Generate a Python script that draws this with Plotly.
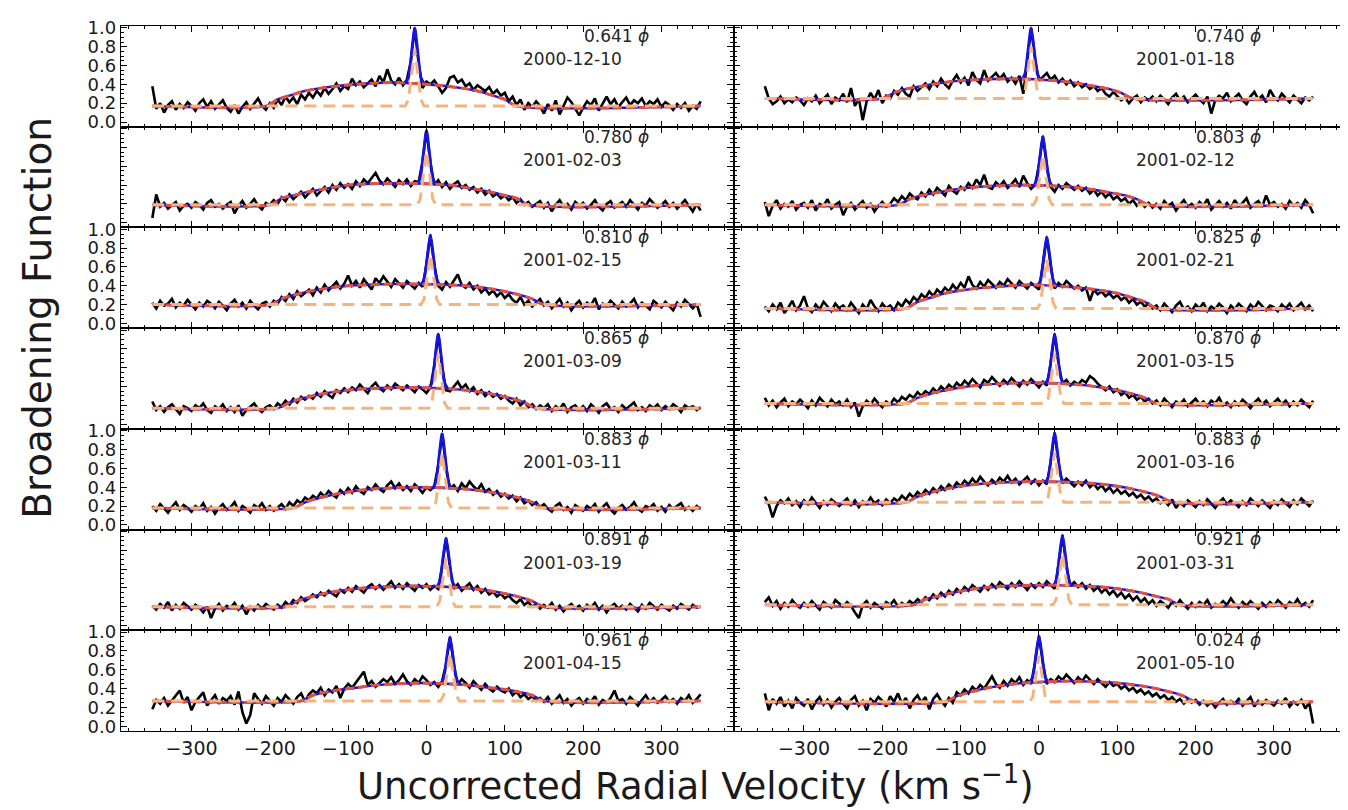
import plotly.graph_objects as go
from plotly.subplots import make_subplots

# ---------------- data ----------------
VELOCITY = list(range(-350, 351, 5))  # km/s grid of the broadening functions

PHASES_LEFT = ["0.641", "0.780", "0.810", "0.865", "0.883", "0.891", "0.961"]
DATES_LEFT = ["2000-12-10", "2001-02-03", "2001-02-15", "2001-03-09",
              "2001-03-11", "2001-03-19", "2001-04-15"]
PHASES_RIGHT = ["0.740", "0.803", "0.825", "0.870", "0.883", "0.921", "0.024"]
DATES_RIGHT = ["2001-01-18", "2001-02-12", "2001-02-21", "2001-03-15",
               "2001-03-16", "2001-03-31", "2001-05-10"]

X_TICKS = [-300, -200, -100, 0, 100, 200, 300]
Y_TICKS = [0.0, 0.2, 0.4, 0.6, 0.8, 1.0]

# ---- observed broadening functions (black) ----
bf_l1 = [0.38, 0.14, 0.20, 0.10, 0.18, 0.22, 0.13, 0.19, 0.15, 0.21,
         0.17, 0.12, 0.20, 0.24, 0.16, 0.22, 0.14, 0.19, 0.23, 0.15,
         0.11, 0.18, 0.09, 0.16, 0.21, 0.14, 0.19, 0.25, 0.17, 0.13,
         0.20, 0.15, 0.24, 0.18, 0.27, 0.21, 0.26, 0.19, 0.29, 0.24,
         0.31, 0.26, 0.33, 0.28, 0.36, 0.30, 0.35, 0.41, 0.33, 0.38,
         0.35, 0.46, 0.39, 0.43, 0.37, 0.41, 0.45, 0.38, 0.49, 0.42,
         0.56, 0.44, 0.40, 0.47, 0.39, 0.45, 0.64, 1.00, 0.62, 0.36,
         0.43, 0.40, 0.44, 0.38, 0.31, 0.36, 0.47, 0.49, 0.42, 0.45,
         0.38, 0.41, 0.34, 0.39, 0.36, 0.33, 0.37, 0.30, 0.34, 0.28,
         0.31, 0.22, 0.27, 0.18, 0.24, 0.13, 0.20, 0.16, 0.22, 0.17,
         0.09, 0.19, 0.12, 0.23, 0.08, 0.18, 0.26, 0.21, 0.14, 0.07,
         0.15, 0.22, 0.18, 0.25, 0.12, 0.20, 0.27, 0.19, 0.24, 0.16,
         0.21, 0.26, 0.18, 0.23, 0.20, 0.25, 0.17, 0.22, 0.19, 0.24,
         0.16, 0.21, 0.18, 0.13, 0.19, 0.15, 0.20, 0.12, 0.17, 0.14,
         0.22]
bf_l2 = [0.05, 0.30, 0.17, 0.21, 0.15, 0.19, 0.22, 0.13, 0.18, 0.20,
         0.16, 0.22, 0.19, 0.14, 0.21, 0.24, 0.17, 0.20, 0.15, 0.19,
         0.22, 0.10, 0.18, 0.23, 0.16, 0.20, 0.25, 0.18, 0.14, 0.21,
         0.19, 0.24, 0.20, 0.27, 0.23, 0.30, 0.25, 0.29, 0.33, 0.27,
         0.31, 0.36, 0.29, 0.34, 0.38, 0.32, 0.40, 0.35, 0.42, 0.37,
         0.41, 0.36, 0.44, 0.39, 0.46, 0.42, 0.48, 0.53, 0.45, 0.41,
         0.47, 0.43, 0.38, 0.45, 0.41, 0.46, 0.39, 0.44, 0.43, 0.65,
         0.98, 0.64, 0.40, 0.45, 0.38, 0.43, 0.36, 0.41, 0.44, 0.37,
         0.40, 0.35, 0.38, 0.32, 0.36, 0.30, 0.34, 0.28, 0.31, 0.26,
         0.29, 0.24, 0.27, 0.21, 0.25, 0.19, 0.22, 0.17, 0.20, 0.23,
         0.16, 0.21, 0.12, 0.19, 0.24, 0.17, 0.20, 0.14, 0.22, 0.18,
         0.21, 0.15, 0.19, 0.24, 0.17, 0.13, 0.20, 0.23, 0.16, 0.19,
         0.22, 0.17, 0.24, 0.19, 0.14, 0.21, 0.18, 0.25, 0.20, 0.16,
         0.19, 0.23, 0.17, 0.21, 0.15, 0.20, 0.24, 0.18, 0.12, 0.20,
         0.13]
bf_l3 = [0.22, 0.16, 0.24, 0.19, 0.21, 0.26, 0.17, 0.22, 0.19, 0.25,
         0.20, 0.15, 0.22, 0.18, 0.24, 0.21, 0.16, 0.23, 0.19, 0.14,
         0.21, 0.25, 0.18, 0.22, 0.16, 0.24, 0.19, 0.15, 0.21, 0.23,
         0.18, 0.24, 0.21, 0.28, 0.24, 0.31, 0.26, 0.34, 0.29, 0.33,
         0.36, 0.30, 0.38, 0.33, 0.41, 0.35, 0.39, 0.44, 0.37, 0.42,
         0.51, 0.40, 0.45, 0.38, 0.47, 0.42, 0.36, 0.48, 0.43, 0.50,
         0.44, 0.39, 0.47, 0.42, 0.38, 0.45, 0.41, 0.37, 0.43, 0.39,
         0.63, 0.94, 0.62, 0.40, 0.36, 0.44, 0.39, 0.46, 0.52, 0.41,
         0.38, 0.43, 0.36, 0.40, 0.33, 0.37, 0.31, 0.35, 0.29, 0.33,
         0.27, 0.31, 0.25, 0.22, 0.28, 0.20, 0.24, 0.18, 0.22, 0.26,
         0.19, 0.23, 0.16, 0.21, 0.26, 0.18, 0.22, 0.14, 0.20, 0.24,
         0.17, 0.22, 0.19, 0.27, 0.15, 0.21, 0.18, 0.24, 0.20, 0.16,
         0.23, 0.18, 0.21, 0.26, 0.17, 0.22, 0.19, 0.15, 0.24, 0.20,
         0.17, 0.23, 0.19, 0.14, 0.22, 0.18, 0.25, 0.20, 0.16, 0.21,
         0.07]
bf_l4 = [0.24, 0.15, 0.19, 0.13, 0.18, 0.21, 0.16, 0.11, 0.19, 0.17,
         0.14, 0.20, 0.17, 0.22, 0.15, 0.12, 0.19, 0.16, 0.21, 0.14,
         0.18, 0.13, 0.20, 0.09, 0.15, 0.19, 0.22, 0.16, 0.13, 0.18,
         0.20, 0.16, 0.22, 0.19, 0.25, 0.21, 0.27, 0.23, 0.29, 0.26,
         0.30, 0.27, 0.33, 0.29, 0.35, 0.31, 0.28, 0.36, 0.33, 0.38,
         0.34, 0.39, 0.36, 0.42, 0.37, 0.33, 0.40, 0.44, 0.38, 0.35,
         0.41, 0.37, 0.43, 0.39, 0.36, 0.41, 0.38, 0.34, 0.40, 0.37,
         0.33, 0.39, 0.62, 0.96, 0.61, 0.36, 0.35, 0.40, 0.45, 0.38,
         0.42, 0.35, 0.39, 0.32, 0.36, 0.30, 0.34, 0.29, 0.32, 0.27,
         0.30, 0.25, 0.22, 0.27, 0.20, 0.24, 0.18, 0.21, 0.16, 0.20,
         0.17, 0.21, 0.14, 0.19, 0.16, 0.22, 0.13, 0.18, 0.20, 0.15,
         0.19, 0.14, 0.21, 0.17, 0.12, 0.19, 0.22, 0.16, 0.18, 0.13,
         0.20, 0.16, 0.19, 0.23, 0.15, 0.18, 0.14, 0.20, 0.17, 0.21,
         0.15, 0.19, 0.16, 0.21, 0.18, 0.13, 0.20, 0.17, 0.19, 0.15,
         0.18]
bf_l5 = [0.20, 0.15, 0.22, 0.17, 0.13, 0.19, 0.24, 0.16, 0.21, 0.18,
         0.14, 0.20, 0.17, 0.23, 0.15, 0.19, 0.12, 0.18, 0.22, 0.16,
         0.19, 0.24, 0.15, 0.20, 0.17, 0.13, 0.21, 0.18, 0.23, 0.16,
         0.20, 0.15, 0.19, 0.22, 0.17, 0.24, 0.20, 0.26, 0.23, 0.29,
         0.26, 0.31, 0.28, 0.34, 0.30, 0.36, 0.32, 0.29, 0.37, 0.33,
         0.39, 0.34, 0.41, 0.36, 0.33, 0.40, 0.37, 0.43, 0.38, 0.35,
         0.42, 0.46, 0.39, 0.44, 0.37, 0.41, 0.36, 0.43, 0.39, 0.34,
         0.40, 0.37, 0.41, 0.63, 0.97, 0.62, 0.38, 0.42, 0.36, 0.44,
         0.39, 0.46, 0.41, 0.37, 0.43, 0.35, 0.38, 0.32, 0.36, 0.30,
         0.33, 0.28, 0.31, 0.25, 0.29, 0.23, 0.26, 0.21, 0.24, 0.19,
         0.22, 0.17, 0.14, 0.20, 0.23, 0.16, 0.19, 0.13, 0.21, 0.18,
         0.15, 0.20, 0.17, 0.22, 0.14, 0.19, 0.23, 0.16, 0.12, 0.18,
         0.21, 0.16, 0.19, 0.24, 0.17, 0.14, 0.20, 0.18, 0.22, 0.15,
         0.19, 0.14, 0.21, 0.17, 0.20, 0.23, 0.16, 0.19, 0.15, 0.20,
         0.17]
bf_l6 = [0.21, 0.17, 0.23, 0.19, 0.25, 0.16, 0.22, 0.18, 0.24, 0.20,
         0.17, 0.22, 0.19, 0.14, 0.20, 0.08, 0.18, 0.23, 0.16, 0.21,
         0.19, 0.24, 0.17, 0.21, 0.12, 0.20, 0.16, 0.22, 0.18, 0.23,
         0.20, 0.17, 0.22, 0.19, 0.25, 0.21, 0.27, 0.24, 0.30, 0.26,
         0.29, 0.33, 0.30, 0.35, 0.32, 0.37, 0.34, 0.31, 0.38, 0.35,
         0.40, 0.36, 0.42, 0.38, 0.35, 0.41, 0.44, 0.39, 0.43, 0.38,
         0.42, 0.47, 0.40, 0.44, 0.39, 0.45, 0.41, 0.37, 0.43, 0.40,
         0.44, 0.38, 0.42, 0.39, 0.63, 0.93, 0.62, 0.39, 0.44, 0.37,
         0.41, 0.45, 0.38, 0.42, 0.35, 0.39, 0.33, 0.36, 0.31, 0.34,
         0.29, 0.32, 0.27, 0.24, 0.28, 0.22, 0.25, 0.20, 0.23, 0.18,
         0.22, 0.19, 0.24, 0.17, 0.21, 0.15, 0.20, 0.23, 0.18, 0.21,
         0.16, 0.22, 0.19, 0.24, 0.17, 0.21, 0.14, 0.20, 0.23, 0.18,
         0.21, 0.17, 0.23, 0.19, 0.15, 0.22, 0.18, 0.24, 0.20, 0.17,
         0.22, 0.19, 0.16, 0.21, 0.18, 0.23, 0.20, 0.17, 0.22, 0.19,
         0.20]
bf_l7 = [0.18, 0.28, 0.24, 0.30, 0.22, 0.27, 0.33, 0.38, 0.25, 0.31,
         0.17, 0.26, 0.31, 0.36, 0.22, 0.28, 0.33, 0.24, 0.30, 0.27,
         0.32, 0.23, 0.37, 0.15, 0.03, 0.12, 0.35, 0.29, 0.24, 0.32,
         0.27, 0.22, 0.30, 0.26, 0.33, 0.28, 0.24, 0.31, 0.35, 0.26,
         0.34, 0.38, 0.35, 0.41, 0.33, 0.39, 0.36, 0.43, 0.30, 0.40,
         0.45, 0.41, 0.47, 0.52, 0.58, 0.44, 0.48, 0.42, 0.46, 0.50,
         0.47, 0.52, 0.45, 0.49, 0.55, 0.48, 0.44, 0.50, 0.46, 0.53,
         0.49, 0.44, 0.47, 0.42, 0.48, 0.66, 0.95, 0.65, 0.44, 0.50,
         0.46, 0.41, 0.48, 0.43, 0.39, 0.45, 0.40, 0.37, 0.42, 0.38,
         0.36, 0.40, 0.33, 0.37, 0.31, 0.34, 0.29, 0.32, 0.27, 0.30,
         0.26, 0.31, 0.24, 0.28, 0.33, 0.25, 0.29, 0.22, 0.27, 0.30,
         0.24, 0.29, 0.26, 0.32, 0.23, 0.28, 0.25, 0.30, 0.38, 0.27,
         0.29, 0.24, 0.31, 0.27, 0.22, 0.28, 0.33, 0.26, 0.30, 0.25,
         0.28, 0.32, 0.26, 0.29, 0.24, 0.30, 0.27, 0.33, 0.25, 0.29,
         0.34]
bf_r1 = [0.38, 0.25, 0.19, 0.22, 0.27, 0.20, 0.24, 0.21, 0.26, 0.23,
         0.18, 0.25, 0.22, 0.28, 0.20, 0.24, 0.29, 0.19, 0.26, 0.23,
         0.30, 0.21, 0.36, 0.17, 0.25, 0.02, 0.22, 0.31, 0.24, 0.34,
         0.20, 0.28, 0.25, 0.33, 0.29, 0.36, 0.30, 0.27, 0.38, 0.33,
         0.37, 0.41, 0.35, 0.43, 0.38, 0.46, 0.40, 0.36, 0.44, 0.50,
         0.42, 0.47, 0.39, 0.53, 0.45, 0.41, 0.55, 0.44, 0.48, 0.52,
         0.46, 0.51, 0.43, 0.47, 0.41, 0.49, 0.30, 0.68, 1.00, 0.67,
         0.44, 0.48, 0.52, 0.45, 0.49, 0.42, 0.46, 0.40, 0.44, 0.38,
         0.42, 0.37, 0.40, 0.35, 0.38, 0.33, 0.36, 0.30, 0.27, 0.32,
         0.28, 0.23, 0.26, 0.20, 0.25, 0.28, 0.21, 0.26, 0.23, 0.27,
         0.22, 0.28, 0.24, 0.19, 0.26, 0.30, 0.23, 0.27, 0.21, 0.25,
         0.29, 0.24, 0.20, 0.27, 0.09, 0.23, 0.28, 0.25, 0.31, 0.22,
         0.26, 0.30, 0.23, 0.19, 0.27, 0.32, 0.24, 0.28, 0.21, 0.34,
         0.27, 0.23, 0.30, 0.25, 0.21, 0.28, 0.24, 0.20, 0.26, 0.23,
         0.27]
bf_r2 = [0.22, 0.07, 0.18, 0.24, 0.15, 0.20, 0.17, 0.23, 0.14, 0.19,
         0.21, 0.16, 0.24, 0.13, 0.20, 0.18, 0.25, 0.15, 0.19, 0.22,
         0.08, 0.17, 0.21, 0.14, 0.19, 0.23, 0.16, 0.20, 0.12, 0.18,
         0.22, 0.17, 0.20, 0.26, 0.22, 0.28, 0.24, 0.31, 0.27, 0.25,
         0.32, 0.28, 0.35, 0.30, 0.37, 0.33, 0.29, 0.39, 0.34, 0.31,
         0.38, 0.35, 0.42, 0.37, 0.46, 0.40, 0.51, 0.38, 0.36, 0.43,
         0.39, 0.44, 0.37, 0.41, 0.46, 0.38, 0.50, 0.42, 0.36, 0.40,
         0.61, 0.92, 0.60, 0.38, 0.33, 0.40, 0.36, 0.42, 0.38, 0.35,
         0.39, 0.34, 0.37, 0.31, 0.35, 0.29, 0.33, 0.27, 0.31, 0.25,
         0.28, 0.23, 0.26, 0.20, 0.24, 0.18, 0.22, 0.17, 0.21, 0.16,
         0.20, 0.15, 0.23, 0.18, 0.21, 0.13, 0.19, 0.24, 0.17, 0.20,
         0.16, 0.22, 0.18, 0.25, 0.14, 0.19, 0.23, 0.17, 0.21, 0.15,
         0.24, 0.18, 0.21, 0.26, 0.16, 0.20, 0.23, 0.17, 0.29, 0.19,
         0.22, 0.17, 0.20, 0.15, 0.23, 0.18, 0.21, 0.16, 0.24, 0.19,
         0.10]
bf_r3 = [0.18, 0.13, 0.20, 0.15, 0.22, 0.11, 0.17, 0.24, 0.14, 0.19,
         0.29, 0.16, 0.12, 0.20, 0.15, 0.23, 0.18, 0.13, 0.21, 0.16,
         0.19, 0.14, 0.22, 0.17, 0.11, 0.20, 0.15, 0.25, 0.18, 0.13,
         0.21, 0.16, 0.19, 0.14, 0.22, 0.18, 0.25, 0.21, 0.28, 0.24,
         0.31, 0.27, 0.34, 0.29, 0.36, 0.32, 0.38, 0.34, 0.41, 0.36,
         0.43, 0.38, 0.50, 0.41, 0.37, 0.44, 0.39, 0.46, 0.42, 0.38,
         0.44, 0.40, 0.47, 0.42, 0.38, 0.45, 0.41, 0.37, 0.43, 0.39,
         0.36, 0.62, 0.92, 0.61, 0.37, 0.43, 0.39, 0.45, 0.41, 0.37,
         0.40, 0.35, 0.38, 0.24, 0.36, 0.31, 0.34, 0.29, 0.32, 0.27,
         0.30, 0.25, 0.28, 0.22, 0.26, 0.20, 0.23, 0.18, 0.21, 0.16,
         0.19, 0.14, 0.21, 0.17, 0.12, 0.19, 0.23, 0.15, 0.18, 0.13,
         0.20, 0.16, 0.22, 0.13, 0.18, 0.15, 0.21, 0.17, 0.11, 0.19,
         0.15, 0.21, 0.17, 0.13, 0.20, 0.16, 0.23, 0.18, 0.14, 0.19,
         0.17, 0.13, 0.20, 0.16, 0.21, 0.14, 0.18, 0.22, 0.15, 0.19,
         0.13]
bf_r4 = [0.28, 0.20, 0.25, 0.18, 0.23, 0.27, 0.19, 0.24, 0.21, 0.26,
         0.22, 0.17, 0.25, 0.20, 0.28, 0.23, 0.19, 0.26, 0.21, 0.24,
         0.20, 0.26, 0.18, 0.23, 0.08, 0.19, 0.25, 0.21, 0.27, 0.22,
         0.18, 0.24, 0.21, 0.27, 0.23, 0.29, 0.26, 0.31, 0.28, 0.34,
         0.30, 0.35, 0.32, 0.38, 0.34, 0.40, 0.36, 0.42, 0.38, 0.44,
         0.40, 0.46, 0.42, 0.48, 0.43, 0.39, 0.47, 0.44, 0.50, 0.45,
         0.41, 0.47, 0.43, 0.49, 0.45, 0.40, 0.46, 0.42, 0.48, 0.44,
         0.39, 0.45, 0.41, 0.65, 0.96, 0.64, 0.43, 0.47, 0.41, 0.45,
         0.42, 0.47, 0.44, 0.51, 0.48, 0.43, 0.39, 0.36, 0.40, 0.34,
         0.37, 0.31, 0.34, 0.28, 0.31, 0.26, 0.29, 0.24, 0.27, 0.22,
         0.25, 0.20, 0.27, 0.23, 0.18, 0.24, 0.21, 0.26, 0.19, 0.23,
         0.27, 0.21, 0.24, 0.19, 0.25, 0.22, 0.28, 0.20, 0.23, 0.18,
         0.24, 0.20, 0.26, 0.22, 0.17, 0.23, 0.27, 0.21, 0.25, 0.19,
         0.23, 0.27, 0.21, 0.25, 0.19, 0.24, 0.20, 0.26, 0.22, 0.18,
         0.25]
bf_r5 = [0.30, 0.22, 0.08, 0.20, 0.26, 0.23, 0.28, 0.21, 0.25, 0.19,
         0.26, 0.22, 0.29, 0.24, 0.18, 0.25, 0.21, 0.27, 0.23, 0.20,
         0.24, 0.28, 0.21, 0.26, 0.19, 0.25, 0.22, 0.29, 0.23, 0.26,
         0.21, 0.27, 0.23, 0.28, 0.25, 0.31, 0.27, 0.33, 0.29, 0.35,
         0.31, 0.37, 0.33, 0.39, 0.35, 0.41, 0.37, 0.43, 0.39, 0.45,
         0.41, 0.47, 0.43, 0.49, 0.44, 0.51, 0.46, 0.42, 0.48, 0.44,
         0.50, 0.46, 0.52, 0.45, 0.49, 0.43, 0.47, 0.51, 0.44, 0.48,
         0.42, 0.47, 0.43, 0.67, 0.98, 0.66, 0.44, 0.49, 0.45, 0.41,
         0.46, 0.42, 0.47, 0.40, 0.44, 0.38, 0.42, 0.36, 0.40, 0.34,
         0.38, 0.33, 0.36, 0.31, 0.34, 0.29, 0.32, 0.27, 0.30, 0.25,
         0.28, 0.23, 0.26, 0.21, 0.27, 0.18, 0.24, 0.20, 0.26, 0.22,
         0.19, 0.25, 0.21, 0.27, 0.23, 0.18, 0.24, 0.28, 0.22, 0.26,
         0.23, 0.19, 0.25, 0.21, 0.28, 0.24, 0.20, 0.26, 0.22, 0.18,
         0.25, 0.21, 0.27, 0.23, 0.19, 0.26, 0.22, 0.28, 0.24, 0.20,
         0.26]
bf_r6 = [0.25, 0.30, 0.21, 0.26, 0.18, 0.24, 0.20, 0.27, 0.22, 0.19,
         0.24, 0.20, 0.26, 0.21, 0.17, 0.25, 0.22, 0.19, 0.27, 0.23,
         0.20, 0.25, 0.21, 0.14, 0.08, 0.22, 0.26, 0.19, 0.24, 0.21,
         0.18, 0.25, 0.22, 0.27, 0.20, 0.24, 0.21, 0.26, 0.23, 0.28,
         0.25, 0.30, 0.27, 0.33, 0.29, 0.35, 0.31, 0.37, 0.33, 0.39,
         0.35, 0.41, 0.37, 0.43, 0.39, 0.36, 0.42, 0.38, 0.44, 0.40,
         0.46, 0.42, 0.39, 0.45, 0.41, 0.47, 0.43, 0.38, 0.44, 0.40,
         0.45, 0.41, 0.47, 0.43, 0.39, 0.65, 0.96, 0.64, 0.42, 0.46,
         0.41, 0.45, 0.39, 0.43, 0.37, 0.41, 0.35, 0.39, 0.33, 0.37,
         0.31, 0.35, 0.29, 0.33, 0.27, 0.31, 0.25, 0.29, 0.23, 0.27,
         0.21, 0.26, 0.23, 0.19, 0.25, 0.21, 0.27, 0.22, 0.18, 0.24,
         0.20, 0.25, 0.22, 0.27, 0.19, 0.23, 0.21, 0.26, 0.22, 0.29,
         0.23, 0.19, 0.25, 0.21, 0.26, 0.22, 0.18, 0.24, 0.20, 0.25,
         0.21, 0.27, 0.23, 0.19, 0.25, 0.22, 0.28, 0.21, 0.24, 0.20,
         0.27]
bf_r7 = [0.35, 0.17, 0.29, 0.24, 0.31, 0.21, 0.27, 0.19, 0.30, 0.25,
         0.22, 0.29, 0.18, 0.26, 0.31, 0.23, 0.28, 0.20, 0.26, 0.30,
         0.24, 0.19, 0.28, 0.32, 0.22, 0.27, 0.17, 0.29, 0.25, 0.31,
         0.27, 0.21, 0.32, 0.26, 0.35, 0.24, 0.30, 0.19, 0.28, 0.33,
         0.25, 0.31, 0.18, 0.29, 0.34, 0.27, 0.22, 0.30, 0.25, 0.36,
         0.33, 0.39, 0.35, 0.42, 0.38, 0.44, 0.40, 0.47, 0.53, 0.45,
         0.41, 0.48, 0.43, 0.50, 0.46, 0.52, 0.44, 0.49, 0.45, 0.68,
         0.96, 0.67, 0.45, 0.50, 0.47, 0.53, 0.49, 0.55, 0.51, 0.46,
         0.52, 0.48, 0.54, 0.49, 0.45, 0.50, 0.46, 0.42, 0.47, 0.43,
         0.45, 0.40, 0.43, 0.38, 0.41, 0.36, 0.39, 0.34, 0.37, 0.32,
         0.35, 0.30, 0.33, 0.28, 0.31, 0.26, 0.29, 0.24, 0.28, 0.25,
         0.28, 0.23, 0.27, 0.22, 0.26, 0.20, 0.25, 0.29, 0.23, 0.27,
         0.24, 0.29, 0.22, 0.26, 0.31, 0.21, 0.27, 0.23, 0.28, 0.25,
         0.22, 0.27, 0.24, 0.30, 0.21, 0.26, 0.23, 0.28, 0.19, 0.25,
         0.03]

# ---- broad component of the fit (red dashed): knots ----
broad_v_l1 = [-350, -205, -190, -175, -155, -135, -105, -45, 15, 45, 65, 85, 100, 115, 350]
broad_y_l1 = [0.17, 0.17, 0.24, 0.28, 0.33, 0.36, 0.39, 0.42, 0.39, 0.36, 0.33, 0.28, 0.24, 0.17, 0.17]
broad_v_l2 = [-350, -200, -185, -170, -150, -130, -100, -35, 30, 60, 80, 100, 115, 130, 350]
broad_y_l2 = [0.19, 0.19, 0.26, 0.29, 0.33, 0.36, 0.40, 0.42, 0.40, 0.36, 0.33, 0.29, 0.26, 0.19, 0.19]
broad_v_l3 = [-350, -200, -185, -170, -150, -130, -100, -25, 50, 80, 100, 120, 135, 150, 350]
broad_y_l3 = [0.20, 0.20, 0.26, 0.30, 0.34, 0.37, 0.40, 0.42, 0.40, 0.37, 0.34, 0.30, 0.26, 0.20, 0.20]
broad_v_l4 = [-350, -190, -175, -160, -140, -120, -90, -25, 40, 70, 90, 110, 125, 140, 350]
broad_y_l4 = [0.17, 0.17, 0.23, 0.27, 0.31, 0.34, 0.37, 0.39, 0.37, 0.34, 0.31, 0.27, 0.23, 0.17, 0.17]
broad_v_l5 = [-350, -170, -155, -140, -120, -100, -70, -10, 50, 80, 100, 120, 135, 150, 350]
broad_y_l5 = [0.18, 0.18, 0.24, 0.28, 0.32, 0.35, 0.38, 0.40, 0.38, 0.35, 0.32, 0.28, 0.24, 0.18, 0.18]
broad_v_l6 = [-350, -180, -165, -150, -130, -110, -80, -15, 50, 80, 100, 120, 135, 150, 350]
broad_y_l6 = [0.20, 0.20, 0.26, 0.30, 0.34, 0.37, 0.40, 0.42, 0.40, 0.37, 0.34, 0.30, 0.26, 0.20, 0.20]
broad_v_l7 = [-350, -160, -145, -130, -110, -90, -60, -5, 50, 80, 100, 120, 135, 150, 350]
broad_y_l7 = [0.27, 0.27, 0.33, 0.36, 0.39, 0.41, 0.44, 0.46, 0.44, 0.41, 0.39, 0.36, 0.33, 0.27, 0.27]
broad_v_r1 = [-350, -200, -185, -170, -150, -130, -100, -40, 20, 50, 70, 90, 105, 120, 350]
broad_y_r1 = [0.25, 0.25, 0.31, 0.35, 0.38, 0.41, 0.44, 0.46, 0.44, 0.41, 0.38, 0.35, 0.31, 0.25, 0.25]
broad_v_r2 = [-350, -180, -165, -150, -130, -110, -80, -20, 40, 70, 90, 110, 125, 140, 350]
broad_y_r2 = [0.19, 0.19, 0.25, 0.29, 0.32, 0.35, 0.38, 0.40, 0.38, 0.35, 0.32, 0.29, 0.25, 0.19, 0.19]
broad_v_r3 = [-350, -170, -155, -140, -120, -100, -70, -10, 50, 80, 100, 120, 135, 150, 350]
broad_y_r3 = [0.16, 0.16, 0.23, 0.27, 0.32, 0.35, 0.38, 0.41, 0.38, 0.35, 0.32, 0.27, 0.23, 0.16, 0.16]
broad_v_r4 = [-350, -170, -155, -140, -120, -100, -70, -10, 50, 80, 100, 120, 135, 150, 350]
broad_y_r4 = [0.22, 0.22, 0.28, 0.32, 0.36, 0.39, 0.42, 0.44, 0.42, 0.39, 0.36, 0.32, 0.28, 0.22, 0.22]
broad_v_r5 = [-350, -170, -155, -140, -120, -100, -70, 0, 70, 100, 120, 140, 155, 170, 350]
broad_y_r5 = [0.24, 0.24, 0.30, 0.34, 0.38, 0.41, 0.44, 0.46, 0.44, 0.41, 0.38, 0.34, 0.30, 0.24, 0.24]
broad_v_r6 = [-350, -160, -145, -130, -110, -90, -60, 10, 80, 110, 130, 150, 165, 180, 350]
broad_y_r6 = [0.22, 0.22, 0.28, 0.31, 0.35, 0.38, 0.41, 0.43, 0.41, 0.38, 0.35, 0.31, 0.28, 0.22, 0.22]
broad_v_r7 = [-350, -120, -105, -90, -70, -50, -20, 40, 100, 130, 150, 170, 185, 200, 350]
broad_y_r7 = [0.26, 0.26, 0.32, 0.36, 0.40, 0.43, 0.46, 0.48, 0.46, 0.43, 0.40, 0.36, 0.32, 0.26, 0.26]

# ---- narrow component (orange dashed) and total fit around the peak (blue) ----
peak_v_l1 = [-350, -27, -23, -19, -15, -11, -7, -3, 350]
peak_y_l1 = [0.17, 0.17, 0.24, 0.51, 0.77, 0.51, 0.24, 0.17, 0.17]
fit_y_l1 = [0.41, 0.47, 0.74, 1.00, 0.74, 0.47, 0.41]
peak_v_l2 = [-350, -12, -8, -4, 0, 4, 8, 12, 350]
peak_y_l2 = [0.19, 0.19, 0.25, 0.52, 0.76, 0.52, 0.25, 0.19, 0.19]
fit_y_l2 = [0.41, 0.47, 0.73, 0.98, 0.73, 0.47, 0.41]
peak_v_l3 = [-350, -7, -3, 1, 5, 9, 13, 17, 350]
peak_y_l3 = [0.20, 0.20, 0.26, 0.50, 0.73, 0.50, 0.26, 0.20, 0.20]
fit_y_l3 = [0.41, 0.47, 0.71, 0.94, 0.71, 0.47, 0.41]
peak_v_l4 = [-350, 3, 7, 11, 15, 19, 23, 27, 350]
peak_y_l4 = [0.17, 0.17, 0.23, 0.50, 0.75, 0.50, 0.23, 0.17, 0.17]
fit_y_l4 = [0.38, 0.44, 0.71, 0.96, 0.71, 0.44, 0.38]
peak_v_l5 = [-350, 8, 12, 16, 20, 24, 28, 32, 350]
peak_y_l5 = [0.18, 0.18, 0.24, 0.51, 0.76, 0.51, 0.24, 0.18, 0.18]
fit_y_l5 = [0.39, 0.45, 0.72, 0.97, 0.72, 0.45, 0.39]
peak_v_l6 = [-350, 13, 17, 21, 25, 29, 33, 37, 350]
peak_y_l6 = [0.20, 0.20, 0.26, 0.50, 0.72, 0.50, 0.26, 0.20, 0.20]
fit_y_l6 = [0.41, 0.47, 0.71, 0.93, 0.71, 0.47, 0.41]
peak_v_l7 = [-350, 18, 22, 26, 30, 34, 38, 42, 350]
peak_y_l7 = [0.27, 0.27, 0.33, 0.56, 0.77, 0.56, 0.33, 0.27, 0.27]
fit_y_l7 = [0.45, 0.51, 0.74, 0.95, 0.74, 0.51, 0.45]
peak_v_r1 = [-350, -22, -18, -14, -10, -6, -2, 2, 350]
peak_y_r1 = [0.25, 0.25, 0.31, 0.56, 0.80, 0.56, 0.31, 0.25, 0.25]
fit_y_r1 = [0.45, 0.51, 0.76, 1.00, 0.76, 0.51, 0.45]
peak_v_r2 = [-350, -7, -3, 1, 5, 9, 13, 17, 350]
peak_y_r2 = [0.19, 0.19, 0.25, 0.49, 0.72, 0.49, 0.25, 0.19, 0.19]
fit_y_r2 = [0.39, 0.45, 0.69, 0.92, 0.69, 0.45, 0.39]
peak_v_r3 = [-350, -2, 2, 6, 10, 14, 18, 22, 350]
peak_y_r3 = [0.16, 0.16, 0.22, 0.46, 0.68, 0.46, 0.22, 0.16, 0.16]
fit_y_r3 = [0.40, 0.46, 0.70, 0.92, 0.70, 0.46, 0.40]
peak_v_r4 = [-350, 8, 12, 16, 20, 24, 28, 32, 350]
peak_y_r4 = [0.22, 0.22, 0.28, 0.52, 0.75, 0.52, 0.28, 0.22, 0.22]
fit_y_r4 = [0.43, 0.49, 0.73, 0.96, 0.73, 0.49, 0.43]
peak_v_r5 = [-350, 8, 12, 16, 20, 24, 28, 32, 350]
peak_y_r5 = [0.24, 0.24, 0.30, 0.54, 0.77, 0.54, 0.30, 0.24, 0.24]
fit_y_r5 = [0.45, 0.51, 0.75, 0.98, 0.75, 0.51, 0.45]
peak_v_r6 = [-350, 18, 22, 26, 30, 34, 38, 42, 350]
peak_y_r6 = [0.22, 0.22, 0.28, 0.53, 0.76, 0.53, 0.28, 0.22, 0.22]
fit_y_r6 = [0.42, 0.48, 0.73, 0.96, 0.73, 0.48, 0.42]
peak_v_r7 = [-350, -12, -8, -4, 0, 4, 8, 12, 350]
peak_y_r7 = [0.26, 0.26, 0.31, 0.54, 0.75, 0.54, 0.31, 0.26, 0.26]
fit_y_r7 = [0.47, 0.52, 0.75, 0.96, 0.75, 0.52, 0.47]

# ---------------- assemble panels ----------------
LEFT = [
    (bf_l1, broad_v_l1, broad_y_l1, peak_v_l1, peak_y_l1, fit_y_l1),
    (bf_l2, broad_v_l2, broad_y_l2, peak_v_l2, peak_y_l2, fit_y_l2),
    (bf_l3, broad_v_l3, broad_y_l3, peak_v_l3, peak_y_l3, fit_y_l3),
    (bf_l4, broad_v_l4, broad_y_l4, peak_v_l4, peak_y_l4, fit_y_l4),
    (bf_l5, broad_v_l5, broad_y_l5, peak_v_l5, peak_y_l5, fit_y_l5),
    (bf_l6, broad_v_l6, broad_y_l6, peak_v_l6, peak_y_l6, fit_y_l6),
    (bf_l7, broad_v_l7, broad_y_l7, peak_v_l7, peak_y_l7, fit_y_l7),
]
RIGHT = [
    (bf_r1, broad_v_r1, broad_y_r1, peak_v_r1, peak_y_r1, fit_y_r1),
    (bf_r2, broad_v_r2, broad_y_r2, peak_v_r2, peak_y_r2, fit_y_r2),
    (bf_r3, broad_v_r3, broad_y_r3, peak_v_r3, peak_y_r3, fit_y_r3),
    (bf_r4, broad_v_r4, broad_y_r4, peak_v_r4, peak_y_r4, fit_y_r4),
    (bf_r5, broad_v_r5, broad_y_r5, peak_v_r5, peak_y_r5, fit_y_r5),
    (bf_r6, broad_v_r6, broad_y_r6, peak_v_r6, peak_y_r6, fit_y_r6),
    (bf_r7, broad_v_r7, broad_y_r7, peak_v_r7, peak_y_r7, fit_y_r7),
]

FONT = "DejaVu Sans"
W, H = 1348, 810
ML, MR, MT, MB = 113, 9, 10, 87
PW, PH = W - ML - MR, H - MT - MB
X_RANGE = [-390, 392]
Y_RANGE = [-0.05, 1.02]

BLUE = "#1414e6"
RED = "#e2503f"
ORANGE = "#f5b47e"

fig = make_subplots(rows=7, cols=2, horizontal_spacing=0, vertical_spacing=0)

for col, (panels, phases, dates) in enumerate(
        [(LEFT, PHASES_LEFT, DATES_LEFT), (RIGHT, PHASES_RIGHT, DATES_RIGHT)], start=1):
    for r, (bf, bv, by, pv, py, fy) in enumerate(panels, start=1):
        assert len(bf) == len(VELOCITY)
        fig.add_vline(x=0, line=dict(color="#b4b4b4", width=1.6), layer="below", row=r, col=col)
        # observed broadening function
        fig.add_trace(go.Scatter(x=VELOCITY, y=bf, mode="lines",
                                 line=dict(color="black", width=2.6)), row=r, col=col)
        # total fit: broad part (same path as red) + narrow peak
        fig.add_trace(go.Scatter(x=bv, y=by, mode="lines",
                                 line=dict(color=BLUE, width=2.4, shape="spline", smoothing=0.7)),
                      row=r, col=col)
        fig.add_trace(go.Scatter(x=pv[1:-1], y=fy, mode="lines",
                                 line=dict(color=BLUE, width=2.8, shape="spline", smoothing=0.7)),
                      row=r, col=col)
        # broad component
        fig.add_trace(go.Scatter(x=bv, y=by, mode="lines",
                                 line=dict(color=RED, width=3.0, dash="9px,4px",
                                           shape="spline", smoothing=0.7)), row=r, col=col)
        # narrow component
        fig.add_trace(go.Scatter(x=pv, y=py, mode="lines",
                                 line=dict(color=ORANGE, width=3.0, dash="12px,7px")), row=r, col=col)
        fig.add_annotation(x=198, y=0.915, text=f"{phases[r-1]} <i>ϕ</i>", showarrow=False,
                           xanchor="left", yanchor="middle",
                           font=dict(family=FONT, size=17, color="#262626"), row=r, col=col)
        fig.add_annotation(x=121, y=0.67, text=dates[r-1], showarrow=False,
                           xanchor="left", yanchor="middle",
                           font=dict(family=FONT, size=17, color="#262626"), row=r, col=col)

        show_y = (col == 1 and r % 2 == 1)
        fig.update_yaxes(range=Y_RANGE, tickvals=Y_TICKS, tickformat=".1f",
                         ticks="inside", ticklen=6, tickwidth=1.2, tickcolor="black",
                         minor=dict(ticks="inside", dtick=0.05, tick0=0, ticklen=3,
                                    tickcolor="black", tickwidth=1),
                         showline=True, linecolor="black", linewidth=1.3, mirror="allticks",
                         showgrid=False, zeroline=False, showticklabels=show_y,
                         tickfont=dict(family=FONT, size=18, color="#1a1a1a"),
                         row=r, col=col)
        fig.update_xaxes(range=X_RANGE, tickvals=X_TICKS,
                         ticks="inside", ticklen=6, tickwidth=1.2, tickcolor="black",
                         minor=dict(ticks="inside", dtick=20, tick0=0, ticklen=3,
                                    tickcolor="black", tickwidth=1),
                         showline=True, linecolor="black", linewidth=1.3, mirror="allticks",
                         showgrid=False, zeroline=False, showticklabels=(r == 7),
                         tickfont=dict(family=FONT, size=19, color="#1a1a1a"),
                         row=r, col=col)

# axis titles, positioned in paper coordinates (paper = plotting area)
fig.add_annotation(x=(30 - ML) / PW, y=(H - MB - 305) / PH, xref="paper", yref="paper",
                   text="Broadening Function", textangle=-90, showarrow=False,
                   xanchor="center", yanchor="middle",
                   font=dict(family=FONT, size=39, color="#1a1a1a"))
fig.add_annotation(x=(688 - ML) / PW, y=(H - MB - 776) / PH, xref="paper", yref="paper",
                   text="Uncorrected Radial Velocity (km s<sup>−1</sup>)", showarrow=False,
                   xanchor="center", yanchor="middle",
                   font=dict(family=FONT, size=37, color="#1a1a1a"))

fig.update_layout(width=W, height=H, showlegend=False,
                  margin=dict(l=ML, r=MR, t=MT, b=MB),
                  paper_bgcolor="white", plot_bgcolor="white",
                  font=dict(family=FONT))

fig.write_html("out.html")
